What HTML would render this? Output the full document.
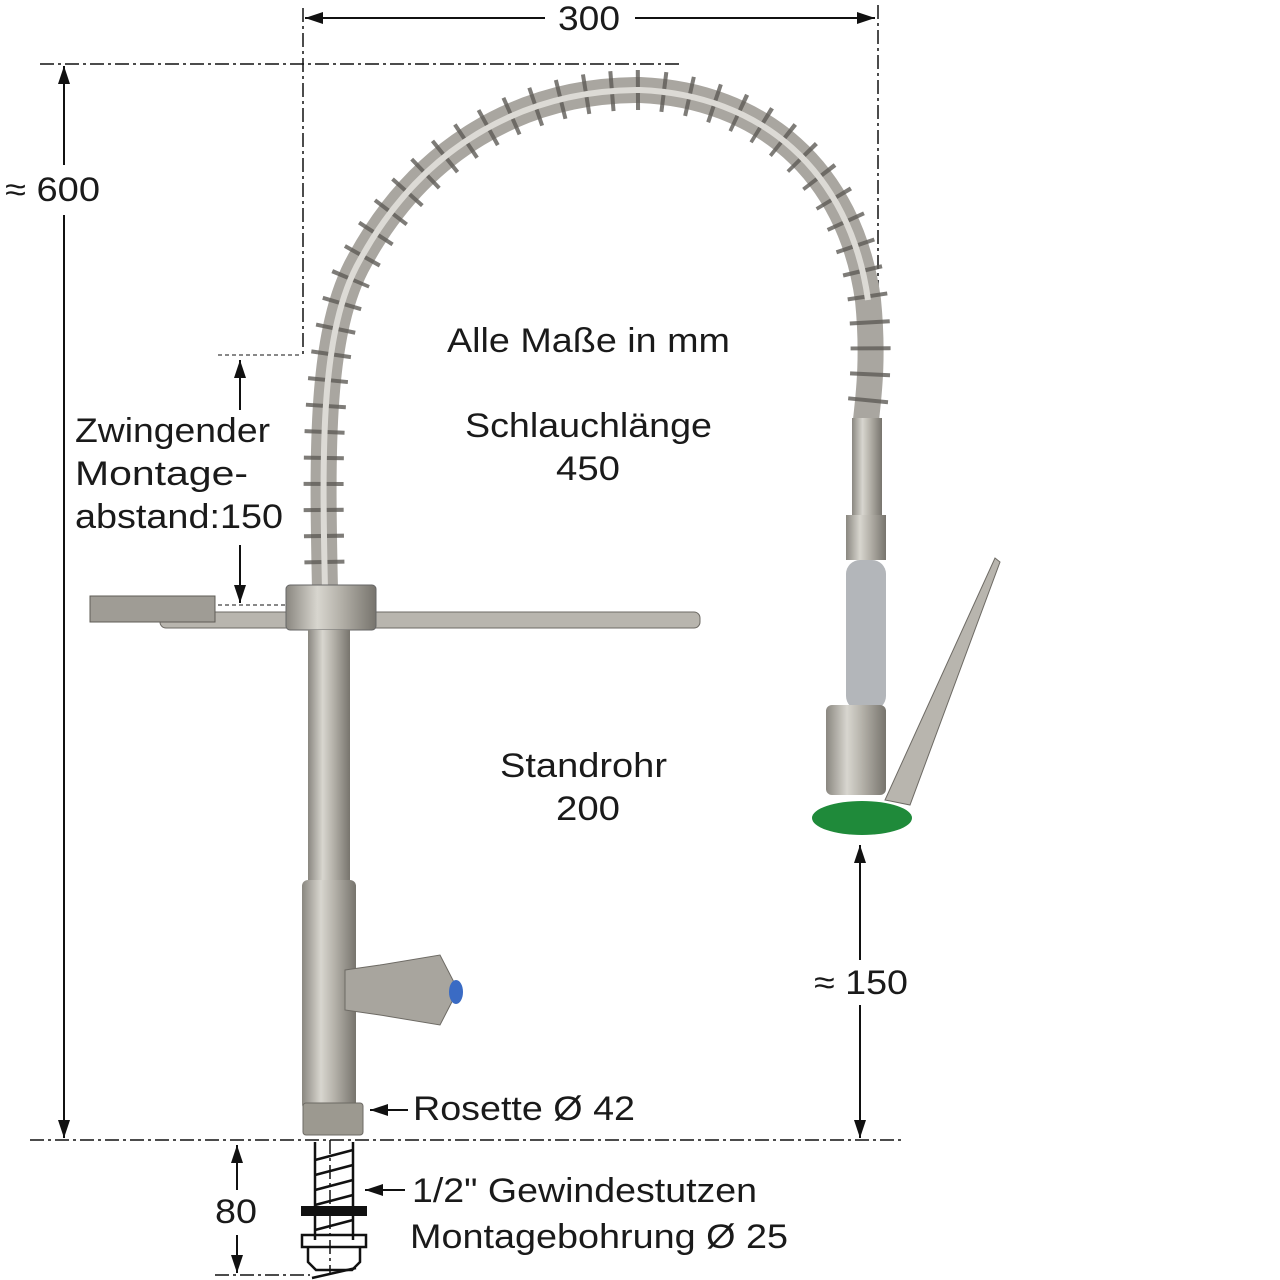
<!DOCTYPE html>
<html><head><meta charset="utf-8"><style>
html,body{margin:0;padding:0;background:#fff;}
svg{display:block;}
text{font-family:"Liberation Sans",Arial,sans-serif;fill:#1a1a1a;}
</style></head><body>
<svg width="1280" height="1280" viewBox="0 0 1280 1280" xmlns="http://www.w3.org/2000/svg">
<defs>
<marker id="ah" viewBox="0 0 18 12" refX="18" refY="6" markerWidth="18" markerHeight="12" orient="auto-start-reverse" markerUnits="userSpaceOnUse"><path d="M0,0 L18,6 L0,12 z" fill="#111"/></marker>
<linearGradient id="steel" x1="0" x2="1" y1="0" y2="0">
<stop offset="0" stop-color="#8a8780"/><stop offset="0.35" stop-color="#d8d6cf"/><stop offset="0.6" stop-color="#b5b2aa"/><stop offset="1" stop-color="#77746d"/></linearGradient>
</defs>
<g stroke="#111" stroke-width="1.5" fill="none" stroke-dasharray="14,4,3,4">
<line x1="303" y1="8" x2="303" y2="355"/>
<line x1="878" y1="5" x2="878" y2="305"/>
<line x1="40" y1="64" x2="680" y2="64"/>
<line x1="30" y1="1140" x2="905" y2="1140"/>
<line x1="215" y1="1275" x2="310" y2="1275"/>
<line x1="330" y1="1140" x2="330" y2="1275"/>
</g>
<g stroke="#111" stroke-width="1" stroke-dasharray="4,3">
<line x1="218" y1="355" x2="300" y2="355"/>
<line x1="218" y1="605" x2="290" y2="605"/>
</g>
<g stroke="#111" stroke-width="2" fill="none">
<line x1="305" y1="18" x2="545" y2="18" marker-start="url(#ah)"/>
<line x1="635" y1="18" x2="875" y2="18" marker-end="url(#ah)"/>
<line x1="64" y1="66" x2="64" y2="165" marker-start="url(#ah)"/>
<line x1="64" y1="215" x2="64" y2="1138" marker-end="url(#ah)"/>
<line x1="240" y1="360" x2="240" y2="410" marker-start="url(#ah)"/>
<line x1="240" y1="545" x2="240" y2="603" marker-end="url(#ah)"/>
<line x1="860" y1="845" x2="860" y2="960" marker-start="url(#ah)"/>
<line x1="860" y1="1005" x2="860" y2="1138" marker-end="url(#ah)"/>
<line x1="237" y1="1145" x2="237" y2="1190" marker-start="url(#ah)"/>
<line x1="237" y1="1235" x2="237" y2="1273" marker-end="url(#ah)"/>
<line x1="370" y1="1110" x2="408" y2="1110" marker-start="url(#ah)"/>
<line x1="365" y1="1190" x2="405" y2="1190" marker-start="url(#ah)"/>
</g>
<!-- hose arc -->
<path d="M325,590 C322,450 320,330 360,260 C420,150 520,90 640,90 C760,95 850,170 868,300 C874,360 868,400 866,420" stroke="#a9a6a0" stroke-width="26" fill="none"/>
<path d="M325,590 C322,450 320,330 360,260 C420,150 520,90 640,90 C760,95 850,170 868,300 C874,360 868,400 866,420" stroke="#5e5b56" stroke-width="40" fill="none" stroke-dasharray="4,22" opacity="0.8"/>
<path d="M325,590 C322,450 320,330 360,260 C420,150 520,90 640,90 C760,95 850,170 868,300" stroke="#dcdad5" stroke-width="6" fill="none"/>
<!-- bar -->
<rect x="160" y="612" width="540" height="16" rx="6" fill="#b8b5ae" stroke="#6d6a64"/>
<rect x="90" y="596" width="125" height="26" fill="#9f9c95" stroke="#5f5c56"/>
<rect x="286" y="585" width="90" height="45" rx="4" fill="url(#steel)" stroke="#666"/>
<!-- standpipe -->
<rect x="308" y="630" width="42" height="255" fill="url(#steel)"/>
<rect x="302" y="880" width="54" height="230" rx="6" fill="url(#steel)"/>
<path d="M345,970 L380,965 L440,955 L458,990 L440,1025 L380,1015 L345,1010 Z" fill="#a8a59e" stroke="#6d6a64"/>
<ellipse cx="456" cy="992" rx="7" ry="12" fill="#3a6bc4"/>
<rect x="303" y="1103" width="60" height="32" rx="3" fill="#9c9990" stroke="#6d6a64"/>
<!-- stud -->
<g stroke="#111" stroke-width="2.5" fill="none">
<line x1="315" y1="1142" x2="315" y2="1240"/><line x1="353" y1="1142" x2="353" y2="1240"/>
<line x1="315" y1="1160" x2="353" y2="1150"/><line x1="315" y1="1175" x2="353" y2="1165"/><line x1="315" y1="1190" x2="353" y2="1180"/><line x1="315" y1="1205" x2="353" y2="1195"/><line x1="315" y1="1230" x2="353" y2="1220"/>
<rect x="302" y="1235" width="64" height="12"/>
<path d="M308,1247 L308,1262 L316,1270 L352,1270 L360,1262 L360,1247"/>
<line x1="312" y1="1278" x2="356" y2="1268"/>
</g>
<rect x="301" y="1206" width="66" height="10" fill="#111"/>
<!-- handle -->
<rect x="852" y="418" width="30" height="100" fill="url(#steel)"/>
<rect x="846" y="515" width="40" height="45" fill="url(#steel)"/>
<rect x="846" y="560" width="40" height="150" rx="14" fill="#b3b6ba"/>
<rect x="826" y="705" width="60" height="90" rx="6" fill="url(#steel)"/>
<path d="M995,558 L1000,562 L910,805 L885,800 Z" fill="#b8b5ae" stroke="#6d6a64"/>
<ellipse cx="862" cy="818" rx="50" ry="17" fill="#1f8a3a"/>
<g font-size="34" lengthAdjust="spacingAndGlyphs">
<text x="558" y="30" textLength="62" lengthAdjust="spacingAndGlyphs">300</text>
<text x="5" y="201" textLength="95" lengthAdjust="spacingAndGlyphs">≈ 600</text>
<text x="447" y="352" textLength="283" lengthAdjust="spacingAndGlyphs">Alle Maße in mm</text>
<text x="465" y="437" textLength="247" lengthAdjust="spacingAndGlyphs">Schlauchlänge</text>
<text x="556" y="480" textLength="64" lengthAdjust="spacingAndGlyphs">450</text>
<text x="75" y="442" textLength="195" lengthAdjust="spacingAndGlyphs">Zwingender</text>
<text x="75" y="485" textLength="173" lengthAdjust="spacingAndGlyphs">Montage-</text>
<text x="75" y="528" textLength="208" lengthAdjust="spacingAndGlyphs">abstand:150</text>
<text x="500" y="777" textLength="167" lengthAdjust="spacingAndGlyphs">Standrohr</text>
<text x="556" y="820" textLength="64" lengthAdjust="spacingAndGlyphs">200</text>
<text x="814" y="994" textLength="94" lengthAdjust="spacingAndGlyphs">≈ 150</text>
<text x="413" y="1120" textLength="222" lengthAdjust="spacingAndGlyphs">Rosette Ø 42</text>
<text x="215" y="1223" textLength="42" lengthAdjust="spacingAndGlyphs">80</text>
<text x="412" y="1202" textLength="345" lengthAdjust="spacingAndGlyphs">1/2" Gewindestutzen</text>
<text x="410" y="1248" textLength="378" lengthAdjust="spacingAndGlyphs">Montagebohrung Ø 25</text>
</g>
</svg>
</body></html>
